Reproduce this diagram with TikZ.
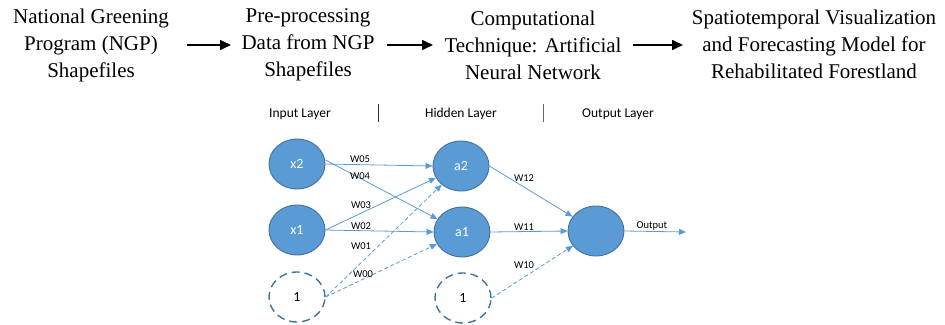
\documentclass[tikz,border=0pt]{standalone}
\usepackage{fontspec}
\newfontfamily\serffont{Liberation Serif}
\newfontfamily\calfont{Carlito}
\usetikzlibrary{arrows.meta,shapes.geometric}
\definecolor{nodeblue}{HTML}{5B9BD5}
\definecolor{edgeblue}{HTML}{41719C}
\tikzset{
  stagebox/.style={align=center, font=\serffont\fontsize{21}{27}\selectfont, inner sep=0pt},
  stagearrow/.style={-{Triangle[length=11pt,width=10pt]}, line width=1.6pt, black},
  layerlbl/.style={font=\calfont\fontsize{13.5}{15}\selectfont, inner sep=0pt},
  neuron/.style={ellipse, minimum width=56pt, minimum height=50pt, fill=nodeblue, draw=edgeblue, line width=0.9pt, font=\calfont\fontsize{14}{16}\selectfont, text=white, inner sep=0pt},
  biasnode/.style={ellipse, minimum width=56pt, minimum height=50pt, draw=edgeblue, line width=1.4pt, dash pattern=on 8pt off 5pt, font=\calfont\fontsize{14}{16}\selectfont, text=black, inner sep=0pt},
  conn/.style={-{Triangle[length=7pt,width=6pt]}, draw=nodeblue, line width=0.8pt},
  dconn/.style={conn, dash pattern=on 4pt off 2.5pt},
  wlbl/.style={font=\calfont\fontsize{10.5}{12}\selectfont, inner sep=0pt},
}
\begin{document}
\begin{tikzpicture}[x=1pt,y=-1pt]
\useasboundingbox (0,0) rectangle (945,324);
% top flow
\node[stagebox] (s1) at (91,45) {National Greening\\Program (NGP)\\Shapefiles};
\node[stagebox] (s2) at (308,45) {Pre-processing\\Data from NGP\\Shapefiles};
\node[stagebox] (s3) at (533,45) {Computational\\Technique: Artificial\\Neural Network};
\node[stagebox] (s4) at (814,44) {Spatiotemporal Visualization\\and Forecasting Model for\\Rehabilitated Forestland};
\coordinate (a1s) at (187,45); \coordinate (a1e) at (231,45);
\coordinate (a2s) at (387,45); \coordinate (a2e) at (433,45);
\coordinate (a3s) at (633,45); \coordinate (a3e) at (683,45);
\draw[stagearrow] (a1s) -- (a1e);
\draw[stagearrow] (a2s) -- (a2e);
\draw[stagearrow] (a3s) -- (a3e);
% layer labels
\node[layerlbl] (li) at (300,114) {Input Layer};
\node[layerlbl] (lh) at (461,114) {Hidden Layer};
\node[layerlbl] (lo) at (618,114) {Output Layer};
\coordinate (sep1t) at (378,104); \coordinate (sep1b) at (378,122);
\coordinate (sep2t) at (543,104); \coordinate (sep2b) at (543,122);
\draw[black!80, line width=0.8pt] (sep1t) -- (sep1b);
\draw[black!60, line width=0.8pt] (sep2t) -- (sep2b);
% neurons
\node[neuron] (x2) at (297,164) {x2};
\node[neuron] (x1) at (297,230) {x1};
\node[biasnode] (b0) at (297,297) {1};
\node[neuron] (h2) at (461,166) {a2};
\node[neuron] (h1) at (462,232) {a1};
\node[biasnode] (b1) at (463,298) {1};
\node[neuron] (o) at (596,231) {};
\coordinate (oend) at (686,232);
% connections
\draw[conn] (x2.east) -- (h2.west);
\draw[conn] ([yshift=4pt]x2.east) -- (h1);
\draw[conn] (x1.east) -- (h2);
\draw[conn] (x1.east) -- (h1.west);
\draw[dconn] (b0.east) -- (h2);
\draw[dconn] (b0.east) -- (h1);
\draw[conn] (h2.east) -- (o);
\draw[conn] (h1.east) -- (o.west);
\draw[dconn] (b1.east) -- (o);
\draw[conn] (o.east) -- (oend);
% weight labels
\node[wlbl] (w05) at (360,159) {W05};
\node[wlbl] (w04) at (360,176) {W04};
\node[wlbl] (w03) at (361,205) {W03};
\node[wlbl] (w02) at (361,226) {W02};
\node[wlbl] (w01) at (361,246) {W01};
\node[wlbl] (w00) at (363,274) {W00};
\node[wlbl] (w12) at (524,178) {W12};
\node[wlbl] (w11) at (524,227) {W11};
\node[wlbl] (w10) at (524,265) {W10};
\node[wlbl] (outl) at (652,226) {Output};
\end{tikzpicture}
\end{document}
